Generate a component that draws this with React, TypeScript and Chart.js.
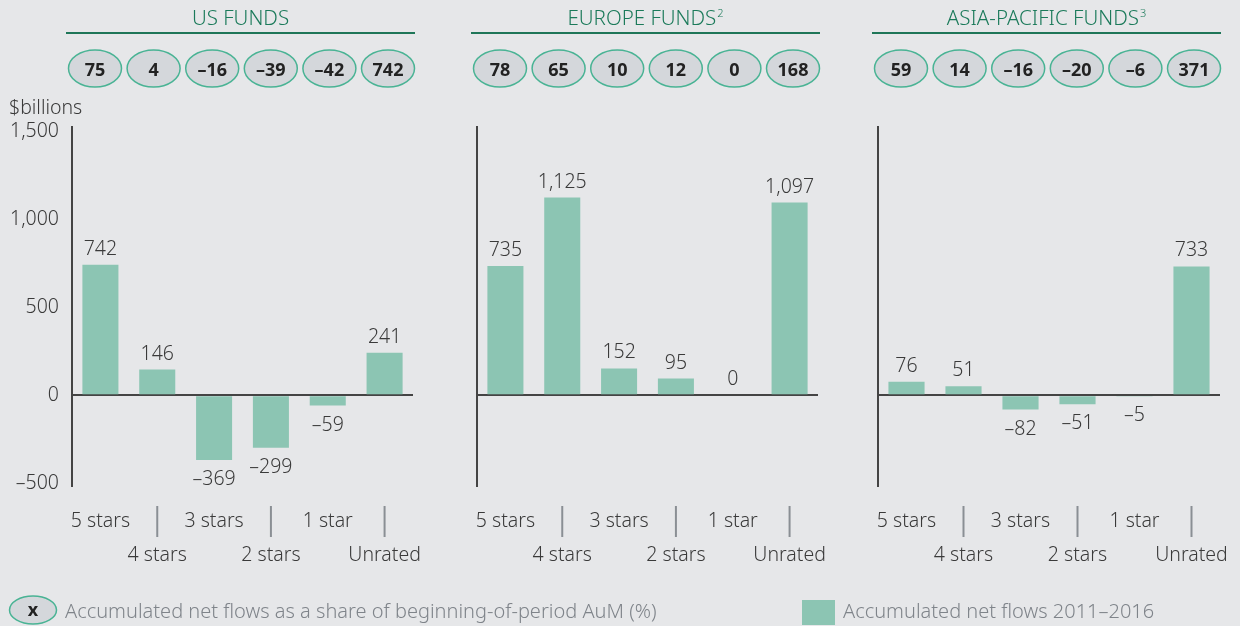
import React, { useEffect, useRef } from 'react';
import { Chart, registerables } from 'chart.js';

Chart.register(...registerables);

const categories = ['5 stars', '4 stars', '3 stars', '2 stars', '1 star', 'Unrated'];
const regionTitles = ['US FUNDS', 'EUROPE FUNDS', 'ASIA-PACIFIC FUNDS'];
const regionNotes = ['', '2', '3'];
const usFlows = [742, 146, -369, -299, -59, 241];
const europeFlows = [735, 1125, 152, 95, 0, 1097];
const asiaFlows = [76, 51, -82, -51, -5, 733];
const usShare = [75, 4, -16, -39, -42, 742];
const europeShare = [78, 65, 10, 12, 0, 168];
const asiaShare = [59, 14, -16, -20, -6, 371];
const yTicks = [-500, 0, 500, 1000, 1500];
const yMin = -517;
const yMax = 1527;
const yUnit = '$billions';
const legendShareSymbol = 'x';
const legendShareLabel = 'Accumulated net flows as a share of beginning-of-period AuM (%)';
const legendFlowLabel = 'Accumulated net flows 2011\u20132016';

const FONT = '"Noto Sans", "Open Sans", sans-serif';
const LIGHT = '300';
const FS = 19.5;
const BG = '#e6e7e9';
const BAR = '#8cc5b3';
const TEXT = '#3a3a3a';
const GREEN_TITLE = '#1b7a5a';
const GREEN_LINE = '#1f7658';
const PILL_STROKE = '#49b394';
const PILL_FILL = '#d4d7db';
const AXIS = '#444444';
const SEP = '#8a8f94';
const LEGEND_TEXT = '#7f848a';

const fmt = (v: number) =>
  v < 0 ? '\u2013' + Math.abs(v).toLocaleString('en-US') : v.toLocaleString('en-US');

type PanelCfg = {
  flows: number[];
  share: number[];
  title: string;
  note: string;
  padLeft: number;
  padRight: number;
  showTicks: boolean;
  showLegend: boolean;
};

const panels: PanelCfg[] = [
  { flows: usFlows, share: usShare, title: regionTitles[0], note: regionNotes[0], padLeft: 0, padRight: 827, showTicks: true, showLegend: true },
  { flows: europeFlows, share: europeShare, title: regionTitles[1], note: regionNotes[1], padLeft: 405, padRight: 422, showTicks: false, showLegend: false },
  { flows: asiaFlows, share: asiaShare, title: regionTitles[2], note: regionNotes[2], padLeft: 806, padRight: 20, showTicks: false, showLegend: false },
];

function drawPill(ctx: CanvasRenderingContext2D, cx: number, cy: number, rx: number, ry: number) {
  ctx.beginPath();
  ctx.ellipse(cx, cy, rx, ry, 0, 0, Math.PI * 2);
  ctx.fillStyle = PILL_FILL;
  ctx.fill();
  ctx.lineWidth = 1.5;
  ctx.strokeStyle = PILL_STROKE;
  ctx.stroke();
}

function makePlugin(p: PanelCfg) {
  return {
    id: 'panelDecor',
    afterDraw(chart: any) {
      const ctx: CanvasRenderingContext2D = chart.ctx;
      const area = chart.chartArea;
      const xs = chart.scales.x;
      ctx.save();

      // Title + underline
      const ulLeft = area.left - 6;
      const ulRight = area.left + 343;
      const mid = (ulLeft + ulRight) / 2;
      ctx.font = `${LIGHT} 20.5px ${FONT}`;
      const mainW = ctx.measureText(p.title).width;
      ctx.font = `${LIGHT} 11px ${FONT}`;
      const noteW = p.note ? ctx.measureText(p.note).width + 1 : 0;
      const startX = mid - (mainW + noteW) / 2;
      ctx.fillStyle = GREEN_TITLE;
      ctx.textAlign = 'left';
      ctx.textBaseline = 'alphabetic';
      ctx.font = `${LIGHT} 20.5px ${FONT}`;
      ctx.fillText(p.title, startX, 25);
      if (p.note) {
        ctx.font = `${LIGHT} 11px ${FONT}`;
        ctx.fillText(p.note, startX + mainW + 1, 17);
      }
      ctx.beginPath();
      ctx.moveTo(ulLeft, 33);
      ctx.lineTo(ulRight, 33);
      ctx.lineWidth = 2;
      ctx.strokeStyle = GREEN_LINE;
      ctx.stroke();

      // Share pills
      const pillStart = area.left - 3.5 + 26.5;
      p.share.forEach((v, i) => {
        const cx = pillStart + i * 58.6;
        drawPill(ctx, cx, 68.5, 26.5, 18.5);
        ctx.fillStyle = '#222222';
        ctx.font = `bold 18px ${FONT}`;
        ctx.textAlign = 'center';
        ctx.textBaseline = 'alphabetic';
        ctx.fillText(fmt(v), cx, 75.5);
      });

      // Value labels
      const meta = chart.getDatasetMeta(0);
      ctx.font = `${LIGHT} ${FS}px ${FONT}`;
      ctx.fillStyle = TEXT;
      ctx.textAlign = 'center';
      meta.data.forEach((el: any, i: number) => {
        const v = p.flows[i];
        if (v >= 0) ctx.fillText(fmt(v), el.x, el.y - 10);
        else ctx.fillText(fmt(v), el.x, el.y + 25);
      });

      // Category labels, staggered, with separators
      categories.forEach((c, i) => {
        const x = xs.getPixelForValue(i);
        ctx.fillStyle = TEXT;
        ctx.font = `${LIGHT} ${FS}px ${FONT}`;
        ctx.textAlign = 'center';
        ctx.fillText(c, x, i % 2 === 0 ? 527 : 561);
        if (i % 2 === 1) {
          ctx.beginPath();
          ctx.moveTo(x, 506);
          ctx.lineTo(x, 537);
          ctx.lineWidth = 2;
          ctx.strokeStyle = SEP;
          ctx.stroke();
        }
      });

      if (p.showTicks) {
        ctx.fillStyle = TEXT;
        ctx.font = `${LIGHT} ${FS}px ${FONT}`;
        ctx.textAlign = 'left';
        ctx.fillText(yUnit, 9, 114);
      }

      if (p.showLegend) {
        drawPill(ctx, 33, 610, 23.5, 14);
        ctx.fillStyle = '#222222';
        ctx.font = `bold 18px ${FONT}`;
        ctx.textAlign = 'center';
        ctx.fillText(legendShareSymbol, 33, 616);
        ctx.fillStyle = LEGEND_TEXT;
        ctx.font = `${LIGHT} 20px ${FONT}`;
        ctx.textAlign = 'left';
        ctx.fillText(legendShareLabel, 65, 618);
        ctx.fillStyle = BAR;
        ctx.fillRect(802, 600, 33, 25);
        ctx.fillStyle = LEGEND_TEXT;
        ctx.fillText(legendFlowLabel, 843, 618);
      }
      ctx.restore();
    },
  };
}

function Panel({ cfg }: { cfg: PanelCfg }) {
  const ref = useRef<HTMLCanvasElement | null>(null);
  useEffect(() => {
    if (!ref.current) return;
    const chart = new Chart(ref.current, {
      type: 'bar',
      data: {
        labels: categories,
        datasets: [
          {
            data: cfg.flows,
            backgroundColor: BAR,
            borderWidth: 0,
            categoryPercentage: 1,
            barPercentage: 0.634,
          },
        ],
      },
      options: {
        responsive: false,
        animation: false,
        devicePixelRatio: 1,
        layout: { padding: { left: cfg.padLeft, right: cfg.padRight, top: 127, bottom: 140 } },
        plugins: { legend: { display: false }, tooltip: { enabled: false }, title: { display: false } },
        scales: {
          x: { display: false },
          y: {
            min: yMin,
            max: yMax,
            afterBuildTicks: (scale: any) => {
              scale.ticks = yTicks.map((v) => ({ value: v }));
            },
            afterFit: (scale: any) => {
              scale.width = 72;
            },
            ticks: {
              display: cfg.showTicks,
              padding: 13,
              color: TEXT,
              font: { family: FONT, size: FS, weight: LIGHT },
              callback: (v: any) => fmt(Number(v)),
            },
            grid: {
              drawTicks: false,
              lineWidth: 2,
              color: (c: any) => (c.tick && c.tick.value === 0 ? AXIS : 'rgba(0,0,0,0)'),
            },
            border: { display: true, color: AXIS, width: 2 },
          },
        },
      },
      plugins: [makePlugin(cfg)],
    } as any);
    return () => chart.destroy();
  }, [cfg]);
  return (
    <canvas
      ref={ref}
      width={1240}
      height={626}
      style={{ position: 'absolute', left: 0, top: 0, width: 1240, height: 626 }}
    />
  );
}

export default function App() {
  return (
    <div
      style={{
        position: 'fixed',
        left: 0,
        top: 0,
        width: 1240,
        height: 626,
        background: BG,
        overflow: 'hidden',
      }}
    >
      {panels.map((p, i) => (
        <Panel key={i} cfg={p} />
      ))}
    </div>
  );
}
